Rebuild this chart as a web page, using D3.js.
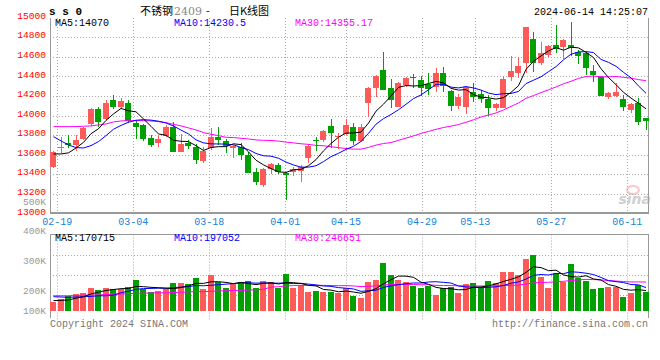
<!DOCTYPE html>
<html><head><meta charset="utf-8">
<script src="https://cdn.jsdelivr.net/npm/d3@7"></script>
<style>body{margin:0;background:#fff}svg{display:block}</style>
</head><body>
<svg id="c" width="660" height="360"></svg>
<script>
// ---------- data ----------
const dates = ["02-08","02-19","02-20","02-21","02-22","02-23","02-26","02-27","02-28","02-29","03-01",
"03-04","03-05","03-06","03-07","03-08","03-11","03-12","03-13","03-14","03-15",
"03-18","03-19","03-20","03-21","03-22","03-25","03-26","03-27","03-28","03-29",
"04-01","04-02","04-03","04-08","04-09","04-10","04-11","04-12",
"04-15","04-16","04-17","04-18","04-19","04-22","04-23","04-24","04-25","04-26",
"04-29","04-30","05-06","05-07","05-08","05-09","05-10",
"05-13","05-14","05-15","05-16","05-17","05-20","05-21","05-22","05-23","05-24",
"05-27","05-28","05-29","05-30","05-31","06-03","06-04","06-05","06-06","06-07",
"06-11","06-12","06-13","06-14"];
const openP  = [13473,13675,13721,13701,13759,13915,14068,13963,14160,14085,14126,13922,13905,13773,13718,13796,13888,13633,13725,13684,
13541,13667,13786,13745,13667,13684,13599,13422,13293,13460,13497,13419,13429,13439,13565,13752,13752,13895,13786,13813,
13888,13745,14126,14279,14466,14279,14085,14313,14398,14364,14320,14296,14439,14252,14102,14085,14245,14221,14167,14075,
14082,14398,14432,14541,14783,14541,14619,14721,14698,14721,14653,14636,14456,14395,14194,14204,14170,14058,14126,13973];
const highP  = [13640,13779,13800,13803,13881,14082,14085,14160,14211,14177,14160,13956,13915,13800,13800,13905,13936,13813,13752,13711,
13684,13871,13888,13759,13701,13725,13633,13463,13463,13521,13521,13425,13480,13497,13711,13786,13854,13963,13827,13970,
13922,13915,14296,14415,14650,14371,14344,14391,14425,14405,14432,14483,14500,14262,14221,14296,14337,14262,14211,14133,
14405,14609,14595,14908,14851,14755,14721,14925,14779,14959,14670,14653,14517,14405,14245,14337,14211,14126,14177,13973];
const lowP   = [13465,13616,13667,13640,13752,13895,13888,13956,14072,14065,13922,13759,13745,13684,13684,13786,13633,13630,13657,13507,
13514,13650,13701,13616,13565,13548,13412,13293,13276,13405,13405,13140,13385,13320,13514,13643,13735,13667,13657,13803,
13701,13735,13983,14187,14262,14075,14085,14296,14279,14201,14211,14245,14245,14051,14065,14017,14143,14126,13997,14051,
14075,14354,14381,14432,14449,14517,14602,14636,14575,14609,14524,14415,14347,14201,14167,14194,14051,14024,13905,13854];
const closeP = [13626,13685,13701,13752,13871,14068,13939,14126,14085,14150,13949,13888,13762,13705,13762,13881,13633,13711,13691,13548,
13640,13786,13752,13691,13694,13599,13419,13320,13456,13505,13429,13395,13453,13473,13694,13739,13844,13827,13796,13905,
13745,13888,14286,14405,14262,14160,14330,14381,14381,14279,14269,14439,14306,14102,14187,14296,14187,14167,14075,14119,
14371,14456,14507,14908,14534,14643,14711,14681,14772,14687,14609,14483,14415,14204,14235,14245,14092,14122,13939,13949];
// volume in thousands (K)
const volume = [164,173,184,190,193,211,203,211,207,207,214,237,207,196,201,207,227,227,223,243,
207,253,229,211,222,229,233,211,233,231,209,257,209,220,198,201,198,198,192,211,
184,178,229,237,292,253,237,229,217,211,217,187,209,214,193,222,226,212,233,226,
262,262,253,307,320,248,211,261,229,290,242,233,207,211,214,214,181,194,220,198];
// moving-average values before enough in-window history
const ma5Head  = [13609,13609,13620,13670];
const ma10Head = [13786,13742,13701,13674,13670,13694,13735,13796,13861];
const ma30Head = [13888,13888,13888,13888,13892,13895,13905,13915,13936,13946,13949,13949,13949,13946,13939,
13929,13912,13895,13875,13854,13827,13810,13796,13779,13776,13769,13762,13752,13748];
const vma5Head  = [168,169,170,176];
const vma10Head = [181,180,179,180,181,182,184,184,186];
const vma30Head = [184,184,184,185,186,186,187,188,189,190,191,192,193,193,194,194,195,196,197,198,198,199,200,201,202,202,203,204,206];
const tickDates = ["02-19","03-04","03-18","04-01","04-15","04-29","05-13","05-27","06-11"];
const priceTicks = d3.range(13000, 15001, 200);
const volTicks = [100,200,300,400,500];
const priceLegend = ["MA5:14070","MA10:14230.5","MA30:14355.17"];
const volLegend = ["MA5:170715","MA10:197052","MA30:246651"];
const maColors = ["#000000","#0000ff","#ff00ff"];

// ---------- layout ----------
const RED = "#ff5a5a", GREEN = "#00a000", GRID = "#aaaaaa", AXIS = "#999999";
const L = 50, R = 648;
const svg = d3.select("#c");
const mono = "'Liberation Mono', 'DejaVu Sans Mono', monospace";

const idx = d3.range(dates.length);
const x = d3.scaleBand().domain(idx).range([49.25, 649.25]).padding(0);
const cx = i => x(i) + x.bandwidth()/2;
const gx = d3.scaleLinear().domain([0, 79]).range([49.7, 650.1]);
const y = d3.scaleLinear().domain([13000, 15000]).range([213.6, 17.7]);
const vy = d3.scaleLinear().domain([200, 300]).range([291, 261]);
const vBase = 311;

function ma(arr, n, head) {
  return arr.map((v, i) => i < n - 1 ? head[i] : d3.mean(arr.slice(i - n + 1, i + 1)));
}
const pMA = [ma(closeP,5,ma5Head), ma(closeP,10,ma10Head), ma(closeP,30,ma30Head)];
const vMA = [ma(volume,5,vma5Head), ma(volume,10,vma10Head), ma(volume,30,vma30Head)];

// ---------- price panel grid ----------
const g = svg.append("g");
g.selectAll(".hg").data(priceTicks.filter(t => t > 13000 && t < 15000)).join("line")
  .attr("x1", L).attr("x2", R).attr("y1", d => Math.round(y(d)) + 0.5).attr("y2", d => Math.round(y(d)) + 0.5)
  .attr("stroke", GRID).attr("stroke-dasharray", "1,2");
const tickIdx = tickDates.map(d => dates.indexOf(d));
g.selectAll(".vg").data(tickIdx).join("line")
  .attr("x1", d => Math.round(gx(d)) + 0.5).attr("x2", d => Math.round(gx(d)) + 0.5)
  .attr("y1", 18).attr("y2", 212).attr("stroke", GRID).attr("stroke-dasharray", "1,2");
// frame
g.append("line").attr("x1", L+0.5).attr("x2", L+0.5).attr("y1", 18).attr("y2", 214).attr("stroke", AXIS);
g.append("line").attr("x1", R+0.5).attr("x2", R+0.5).attr("y1", 18).attr("y2", 214).attr("stroke", AXIS);
g.append("line").attr("x1", L).attr("x2", R+1).attr("y1", 213).attr("y2", 213).attr("stroke", AXIS).attr("stroke-width", 2);

// price labels
g.selectAll(".pl").data(priceTicks).join("text")
  .attr("x", 46).attr("y", d => y(d) - 1.5).attr("text-anchor", "end").attr("dominant-baseline", "middle")
  .attr("font-family", mono).attr("font-size", 9.6).attr("fill", "#ff0000").text(d => d);
// date labels
g.selectAll(".dl").data(tickIdx).join("text")
  .attr("x", d => gx(d)).attr("y", 222.5).attr("text-anchor", "middle").attr("dominant-baseline", "middle")
  .attr("font-family", mono).attr("font-size", 10).attr("fill", "#1584d8").text(d => dates[d]);

// sina watermark
const wm = g.append("g").attr("opacity", 0.55);
wm.append("ellipse").attr("cx", 633).attr("cy", 190).attr("rx", 6).attr("ry", 4).attr("fill", "none").attr("stroke", "#f0a0a0").attr("stroke-width", 2);
wm.append("text").attr("x", 651).attr("y", 204).attr("text-anchor", "end").attr("font-family", "'DejaVu Sans', sans-serif")
  .attr("font-style", "italic").attr("font-weight", "bold").attr("font-size", 14).attr("fill", "#aaaaaa").text("sina");

// candles
const cg = g.append("g").attr("shape-rendering", "crispEdges");
cg.selectAll(".wick").data(idx).join("rect")
  .attr("x", i => Math.round(cx(i) - 3) + 3).attr("width", 1)
  .attr("y", i => Math.round(y(highP[i]))).attr("height", i => Math.max(1, Math.round(y(lowP[i])) - Math.round(y(highP[i]))))
  .attr("fill", i => closeP[i] >= openP[i] ? RED : GREEN);
cg.selectAll(".body").data(idx).join("rect")
  .attr("x", i => Math.round(cx(i) - 3)).attr("width", 6)
  .attr("y", i => Math.round(y(Math.max(openP[i], closeP[i]))))
  .attr("height", i => Math.max(1, Math.round(y(Math.min(openP[i], closeP[i]))) - Math.round(y(Math.max(openP[i], closeP[i])))))
  .attr("fill", i => closeP[i] >= openP[i] ? RED : GREEN);

// MA lines
const line = d3.line().x((d, i) => cx(i) + 0.5).y(d => y(d));
[2,1,0].forEach(k => g.append("path").attr("d", line(pMA[k])).attr("fill", "none").attr("stroke", maColors[k]).attr("stroke-width", 1));

// price legend
[55, 174, 295].forEach((lx, k) => g.append("text").attr("x", lx).attr("y", 23.5).attr("dominant-baseline", "middle")
  .attr("font-family", mono).attr("font-size", 10).attr("fill", maColors[k]).text(priceLegend[k]));

// ---------- volume panel ----------
const vt = 234.5, vb = 314.5;
const vg = svg.append("g");
vg.selectAll(".vh").data([1,2,3]).join("line")
  .attr("x1", L).attr("x2", R).attr("y1", d => Math.round(vt + (vb - vt) * d / 4) + 0.5).attr("y2", d => Math.round(vt + (vb - vt) * d / 4) + 0.5)
  .attr("stroke", GRID).attr("stroke-dasharray", "1,2");
vg.selectAll(".vv").data(tickIdx).join("line")
  .attr("x1", d => Math.round(gx(d)) + 0.5).attr("x2", d => Math.round(gx(d)) + 0.5)
  .attr("y1", vt).attr("y2", 320).attr("stroke", GRID).attr("stroke-dasharray", "1,2");
vg.append("line").attr("x1", L).attr("x2", R+1).attr("y1", vt).attr("y2", vt).attr("stroke", AXIS);
vg.append("line").attr("x1", L+0.5).attr("x2", L+0.5).attr("y1", vt).attr("y2", 318).attr("stroke", AXIS);
vg.append("line").attr("x1", R+0.5).attr("x2", R+0.5).attr("y1", vt).attr("y2", 318).attr("stroke", AXIS);

vg.selectAll(".vl").data(volTicks).join("text")
  .attr("x", 46).attr("y", d => Math.min(vy(d), vBase) + (d === 500 ? 1 : 0)).attr("text-anchor", "end").attr("dominant-baseline", "middle")
  .attr("font-family", mono).attr("font-size", 9.6).attr("fill", "#999999").text(d => d + "K");

vg.append("g").attr("shape-rendering", "crispEdges").selectAll(".vb").data(idx).join("rect")
  .attr("x", i => Math.round(cx(i) - 3)).attr("width", 6)
  .attr("y", i => Math.round(vy(volume[i]))).attr("height", i => vBase - Math.round(vy(volume[i])))
  .attr("fill", i => closeP[i] >= openP[i] ? RED : GREEN);

const vline = d3.line().x((d, i) => cx(i) + 0.5).y(d => vy(d));
[2,1,0].forEach(k => vg.append("path").attr("d", vline(vMA[k])).attr("fill", "none").attr("stroke", maColors[k]).attr("stroke-width", 1));

[55, 174, 295].forEach((lx, k) => vg.append("text").attr("x", lx).attr("y", 238.5).attr("dominant-baseline", "middle")
  .attr("font-family", mono).attr("font-size", 10).attr("fill", maColors[k]).text(volLegend[k]));

// ---------- header / footer ----------
svg.append("text").attr("x", 49).attr("y", 12).attr("dominant-baseline", "middle")
  .attr("font-family", mono).attr("font-weight", "bold").attr("font-size", 11).attr("fill", "#000").text("s s 0");
const tf = "'Noto Sans CJK SC', sans-serif";
const title = svg.append("text").attr("y", 12).attr("dominant-baseline", "middle").attr("font-size", 11).attr("fill", "#000");
title.append("tspan").attr("x", 140).attr("font-family", tf).text("不锈钢");
title.append("tspan").attr("x", 174).attr("fill", "#888").attr("font-family", "'DejaVu Serif', serif").attr("font-size", 11).text("2409");
title.append("tspan").attr("x", 206).attr("font-family", tf).text("-");
title.append("tspan").attr("x", 229).attr("font-family", tf).text("日K线图");
svg.append("text").attr("x", 648).attr("y", 12).attr("text-anchor", "end").attr("dominant-baseline", "middle")
  .attr("font-family", mono).attr("font-size", 10).attr("fill", "#000").text("2024-06-14 14:25:07");
svg.append("text").attr("x", 50).attr("y", 324.5).attr("dominant-baseline", "middle")
  .attr("font-family", mono).attr("font-size", 10).attr("fill", "#777").text("Copyright 2024 SINA.COM");
svg.append("text").attr("x", 648).attr("y", 324.5).attr("text-anchor", "end").attr("dominant-baseline", "middle")
  .attr("font-family", mono).attr("font-size", 10).attr("fill", "#777").text("http://finance.sina.com.cn");
</script>
</body></html>
